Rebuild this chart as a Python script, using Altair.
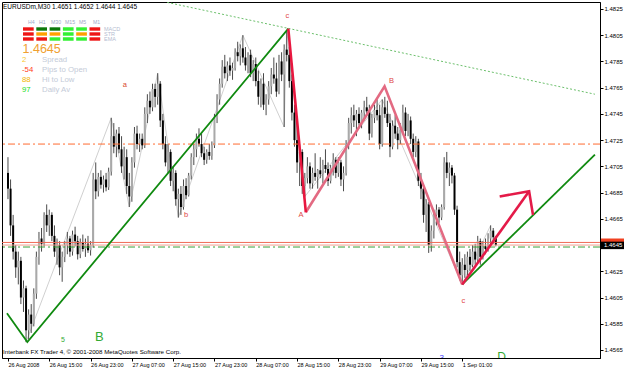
import altair as alt
import pandas as pd

# ---------------- data ----------------
open_ = [
1.4700,1.4688,1.4660,1.4640,1.4628,1.4633,1.4605,1.4612,1.4580,1.4592,
1.4585,1.4608,1.4636,1.4650,1.4646,1.4668,1.4660,1.4668,1.4652,1.4640,
1.4645,1.4628,1.4636,1.4645,1.4650,1.4640,1.4653,1.4648,1.4638,1.4647,
1.4642,1.4646,1.4641,1.4645,1.4695,1.4686,1.4697,1.4691,1.4695,1.4689,
1.4701,1.4728,1.4720,1.4730,1.4718,1.4705,1.4712,1.4690,1.4682,1.4708,
1.4730,1.4722,1.4726,1.4721,1.4745,1.4755,1.4750,1.4764,1.4758,1.4768,
1.4740,1.4722,1.4708,1.4716,1.4694,1.4700,1.4680,1.4684,1.4674,1.4690,
1.4683,1.4698,1.4712,1.4718,1.4726,1.4722,1.4715,1.4710,1.4716,1.4713,
1.4721,1.4742,1.4756,1.4768,1.4781,1.4776,1.4782,1.4778,1.4780,1.4792,
1.4789,1.4795,1.4788,1.4782,1.4790,1.4776,1.4783,1.4770,1.4758,1.4768,
1.4752,1.4756,1.4766,1.4775,1.4772,1.4762,1.4785,1.4775,1.4794,1.4790,
1.4770,1.4746,1.4725,1.4708,1.4716,1.4690,1.4696,1.4705,1.4692,1.4700,
1.4697,1.4702,1.4699,1.4706,1.4703,1.4694,1.4704,1.4710,1.4700,1.4708,
1.4695,1.4700,1.4722,1.4738,1.4744,1.4740,1.4745,1.4738,1.4746,1.4750,
1.4747,1.4730,1.4742,1.4748,1.4744,1.4722,1.4750,1.4745,1.4738,1.4720,
1.4736,1.4730,1.4725,1.4733,1.4746,1.4732,1.4740,1.4726,1.4716,1.4724,
1.4694,1.4688,1.4668,1.4676,1.4645,1.4656,1.4668,1.4672,1.4666,1.4674,
1.4708,1.4700,1.4704,1.4698,1.4672,1.4632,1.4622,1.4630,1.4626,1.4636,
1.4630,1.4640,1.4634,1.4648,1.4636,1.4644,1.4642,1.4650,1.4656,1.4651,
]
high = [
1.4712,1.4695,1.4668,1.4645,1.4640,1.4636,1.4618,1.4614,1.4596,1.4600,
1.4612,1.4640,1.4655,1.4658,1.4670,1.4676,1.4672,1.4670,1.4660,1.4650,
1.4648,1.4640,1.4648,1.4655,1.4652,1.4656,1.4659,1.4652,1.4650,1.4653,
1.4650,1.4652,1.4648,1.4700,1.4708,1.4700,1.4702,1.4698,1.4700,1.4704,
1.4742,1.4738,1.4733,1.4735,1.4728,1.4720,1.4718,1.4700,1.4712,1.4735,
1.4736,1.4730,1.4730,1.4750,1.4760,1.4762,1.4768,1.4768,1.4776,1.4770,
1.4745,1.4728,1.4722,1.4718,1.4705,1.4702,1.4688,1.4690,1.4695,1.4696,
1.4700,1.4715,1.4722,1.4730,1.4734,1.4730,1.4720,1.4718,1.4722,1.4724,
1.4745,1.4760,1.4772,1.4786,1.4790,1.4785,1.4788,1.4784,1.4795,1.4800,
1.4798,1.4805,1.4796,1.4792,1.4794,1.4786,1.4788,1.4778,1.4772,1.4776,
1.4760,1.4770,1.4780,1.4788,1.4784,1.4790,1.4792,1.4798,1.4809,1.4796,
1.4775,1.4752,1.4740,1.4722,1.4718,1.4700,1.4712,1.4708,1.4704,1.4715,
1.4703,1.4712,1.4710,1.4718,1.4708,1.4706,1.4715,1.4712,1.4712,1.4710,
1.4705,1.4725,1.4742,1.4750,1.4752,1.4748,1.4750,1.4748,1.4755,1.4758,
1.4752,1.4745,1.4752,1.4756,1.4752,1.4756,1.4758,1.4755,1.4745,1.4740,
1.4744,1.4735,1.4738,1.4752,1.4750,1.4745,1.4743,1.4730,1.4728,1.4726,
1.4700,1.4690,1.4680,1.4678,1.4660,1.4672,1.4676,1.4674,1.4676,1.4712,
1.4716,1.4708,1.4706,1.4700,1.4675,1.4640,1.4635,1.4638,1.4640,1.4642,
1.4645,1.4646,1.4652,1.4650,1.4648,1.4650,1.4654,1.4660,1.4658,1.4652,
]
low = [
1.4680,1.4652,1.4634,1.4620,1.4615,1.4600,1.4594,1.4571,1.4573,1.4578,
1.4583,1.4604,1.4630,1.4640,1.4644,1.4655,1.4652,1.4648,1.4636,1.4630,
1.4622,1.4617,1.4632,1.4638,1.4636,1.4637,1.4644,1.4634,1.4635,1.4640,
1.4636,1.4639,1.4637,1.4643,1.4680,1.4682,1.4688,1.4685,1.4686,1.4687,
1.4698,1.4715,1.4712,1.4715,1.4700,1.4695,1.4684,1.4674,1.4678,1.4704,
1.4718,1.4716,1.4718,1.4719,1.4738,1.4745,1.4747,1.4750,1.4752,1.4735,
1.4718,1.4705,1.4700,1.4690,1.4686,1.4675,1.4666,1.4668,1.4672,1.4680,
1.4682,1.4695,1.4706,1.4712,1.4720,1.4712,1.4706,1.4707,1.4710,1.4710,
1.4719,1.4738,1.4752,1.4765,1.4772,1.4770,1.4774,1.4771,1.4778,1.4785,
1.4782,1.4784,1.4778,1.4776,1.4773,1.4770,1.4766,1.4752,1.4750,1.4748,
1.4744,1.4752,1.4760,1.4768,1.4758,1.4760,1.4770,1.4735,1.4785,1.4765,
1.4740,1.4720,1.4700,1.4690,1.4684,1.4682,1.4692,1.4688,1.4688,1.4694,
1.4688,1.4696,1.4692,1.4700,1.4690,1.4692,1.4698,1.4696,1.4697,1.4690,
1.4686,1.4698,1.4718,1.4730,1.4735,1.4728,1.4736,1.4734,1.4740,1.4744,
1.4725,1.4727,1.4738,1.4740,1.4718,1.4720,1.4742,1.4735,1.4712,1.4718,
1.4726,1.4718,1.4722,1.4730,1.4728,1.4728,1.4722,1.4712,1.4712,1.4690,
1.4680,1.4662,1.4655,1.4639,1.4640,1.4650,1.4660,1.4662,1.4664,1.4672,
1.4696,1.4690,1.4692,1.4668,1.4628,1.4618,1.4615,1.4620,1.4622,1.4625,
1.4628,1.4630,1.4632,1.4630,1.4634,1.4638,1.4640,1.4645,1.4646,1.4644,
]
close = [
1.4688,1.4660,1.4640,1.4628,1.4633,1.4605,1.4612,1.4580,1.4592,1.4585,
1.4608,1.4636,1.4650,1.4646,1.4668,1.4660,1.4668,1.4652,1.4640,1.4645,
1.4628,1.4636,1.4645,1.4650,1.4640,1.4653,1.4648,1.4638,1.4647,1.4642,
1.4646,1.4641,1.4645,1.4695,1.4686,1.4697,1.4691,1.4695,1.4689,1.4701,
1.4728,1.4720,1.4730,1.4718,1.4705,1.4712,1.4690,1.4682,1.4708,1.4730,
1.4722,1.4726,1.4721,1.4745,1.4755,1.4750,1.4764,1.4758,1.4768,1.4740,
1.4722,1.4708,1.4716,1.4694,1.4700,1.4680,1.4684,1.4674,1.4690,1.4683,
1.4698,1.4712,1.4718,1.4726,1.4722,1.4715,1.4710,1.4716,1.4713,1.4721,
1.4742,1.4756,1.4768,1.4781,1.4776,1.4782,1.4778,1.4780,1.4792,1.4789,
1.4795,1.4788,1.4782,1.4790,1.4776,1.4783,1.4770,1.4758,1.4768,1.4752,
1.4756,1.4766,1.4775,1.4772,1.4762,1.4785,1.4775,1.4794,1.4790,1.4770,
1.4746,1.4725,1.4708,1.4716,1.4690,1.4696,1.4705,1.4692,1.4700,1.4697,
1.4702,1.4699,1.4706,1.4703,1.4694,1.4704,1.4710,1.4700,1.4708,1.4695,
1.4700,1.4722,1.4738,1.4744,1.4740,1.4745,1.4738,1.4746,1.4750,1.4747,
1.4730,1.4742,1.4748,1.4744,1.4722,1.4750,1.4745,1.4738,1.4720,1.4736,
1.4730,1.4725,1.4733,1.4746,1.4732,1.4740,1.4726,1.4716,1.4724,1.4694,
1.4688,1.4668,1.4676,1.4645,1.4656,1.4668,1.4672,1.4666,1.4674,1.4708,
1.4700,1.4704,1.4698,1.4672,1.4632,1.4622,1.4630,1.4626,1.4636,1.4630,
1.4640,1.4634,1.4648,1.4636,1.4644,1.4642,1.4650,1.4656,1.4651,1.4645,
]

x_ticks = [0, 16, 32, 48, 64, 80, 96, 112, 128, 144, 160, 176]
x_tick_labels = ["26 Aug 2008", "26 Aug 15:00", "26 Aug 23:00", "27 Aug 07:00",
                 "27 Aug 15:00", "27 Aug 23:00", "28 Aug 07:00", "28 Aug 15:00",
                 "28 Aug 23:00", "29 Aug 07:00", "29 Aug 15:00", "1 Sep 01:00"]
y_ticks = [1.4565, 1.4585, 1.4605, 1.4625, 1.4645, 1.4665, 1.4685, 1.4705,
           1.4725, 1.4745, 1.4765, 1.4785, 1.4805, 1.4825]

# zigzag indicator (thin grey)
zig_bar = [7, 40, 47, 58, 66, 91, 107, 108, 115, 145, 176, 187]
zig_price = [1.4571, 1.4742, 1.4674, 1.4776, 1.4666, 1.4805, 1.4735, 1.4809,
             1.4682, 1.4756, 1.4615, 1.4660]
# drawn objects
trend1_bar = [-0.4, 7.5, 108.6]
trend1_price = [1.4593, 1.4571, 1.4810]
trend2_bar = [176.0, 227.4]
trend2_price = [1.4615, 1.4714]
chan_bar = [61.7, 227.4]
chan_price = [1.4830, 1.4760]
wave_bar = [108.6, 115.4, 145.9, 176.0]
wave_price = [1.4810, 1.4670, 1.4766, 1.4615]
arrow_bar = [176.0, 201.9]
arrow_price = [1.4615, 1.4686]
head_bar = [190.5, 201.9, 203.4]
head_price = [1.4682, 1.4686, 1.4668]
level_orange = 1.4722
level_green = 1.46435
ask = 1.4647
bid = 1.4645

wave_labels = ["a", "b", "c", "A", "B", "c", "5", "B"]
wave_label_bar = [45.3, 69.0, 108.2, 113.5, 148.6, 176.4, 21.3, 35.4]
wave_label_price = [1.4767, 1.4668, 1.4820, 1.4668, 1.4770, 1.4602, 1.4573, 1.4575]
wave_label_color = ["#d84830", "#e04848", "#e04848", "#e04848", "#e04848", "#e04848",
                    "#33aa33", "#33aa33"]
wave_label_size = [7.5, 7.5, 7.5, 7.5, 7.5, 7.5, 7, 13]
edge_labels = ["3", "D"]
edge_label_bar = [168.0, 191.2]
edge_label_price = [1.45575, 1.45566]
edge_label_color = ["#4040ff", "#33aa33"]
edge_label_size = [8, 12]

symbol = "EURUSDm,M30"
footer = "Interbank FX Trader 4, \u00a9 2001-2008 MetaQuotes Software Corp."
tf_names = ["H4", "H1", "M30", "M15", "M5", "M1"]
ind_names = ["MACD", "STR", "EMA"]
ind_states = [["red", "dkgreen", "dkgreen", "green", "green", "red"],
              ["red", "orange", "orange", "green", "orange", "red"],
              ["red", "red", "green", "green", "green", "red"]]
info_values = ["2", "-54", "88", "97"]
info_names = ["Spread", "Pips to Open", "Hi to Low", "Daily Av"]
info_colors = ["#f8c830", "#ff4020", "#f2b400", "#22dd22"]

# ---------------- chart ----------------
FONT = "Liberation Sans"
xs = alt.Scale(domain=[-0.381, 227.43], nice=False, zero=False)
ys = alt.Scale(domain=[1.45589, 1.48303], nice=False, zero=False)
label_expr = "[" + ",".join("'%s'" % s for s in x_tick_labels) + "][round(datum.value/16)]"
xaxis = alt.Axis(values=x_ticks, labelExpr=label_expr, labelAlign="left", labelBaseline="top",
                 labelFont=FONT, labelFontSize=5.5, labelColor="black", labelPadding=1,
                 labelOverlap=False, labelFlush=False, tickColor="black", tickSize=3,
                 domainColor="black", grid=False, title=None)
yaxis = alt.Axis(orient="right", values=y_ticks, format=".4f", labelFont=FONT,
                 labelFontSize=6, labelColor="black", labelPadding=1, labelOverlap=False,
                 labelFlush=False, tickColor="black", tickSize=3, domainColor="black",
                 grid=False, title=None)


def X(f):
    return alt.X(f, type="quantitative", scale=xs, axis=xaxis)


def Y(f):
    return alt.Y(f, type="quantitative", scale=ys, axis=yaxis)


def line_layer(bars, prices, color, width, dash=None):
    df = pd.DataFrame({"bar": bars, "price": prices, "k": list(range(len(bars)))})
    kw = dict(color=color, strokeWidth=width, clip=True)
    if dash is not None:
        kw["strokeDash"] = dash
    return alt.Chart(df).mark_line(**kw).encode(x=X("bar"), y=Y("price"), order="k:Q")


def level_layer(price, color, width, dash=None):
    df = pd.DataFrame({"price": [price]})
    kw = dict(color=color, strokeWidth=width)
    if dash is not None:
        kw["strokeDash"] = dash
    return alt.Chart(df).mark_rule(**kw).encode(y=Y("price"))


cdf = pd.DataFrame({"bar": list(range(len(close))), "open": open_, "high": high,
                    "low": low, "close": close})
wicks = alt.Chart(cdf).mark_rule(color="#4a4a4a", strokeWidth=1).encode(
    x=X("bar"), y=Y("low"), y2="high")
bodies = alt.Chart(cdf).mark_bar(size=2).encode(
    x=X("bar"), y=Y("open"), y2="close",
    color=alt.condition("datum.close >= datum.open", alt.value("#a9a9a9"), alt.value("#000000")))

zig = line_layer(zig_bar, zig_price, "#d0d0d0", 1)
lev_o = level_layer(level_orange, "#ff6a30", 1, [7, 3, 2, 3])
lev_g = level_layer(level_green, "#3aa03a", 1, [7, 3, 2, 3])
lev_bid = level_layer(bid, "#f4a090", 1)
lev_ask = level_layer(ask, "#f06a55", 1)
chan = line_layer(chan_bar, chan_price, "#6cc06c", 1, [2, 2])
tr1 = line_layer(trend1_bar, trend1_price, "#108a10", 1.8)
tr2 = line_layer(trend2_bar, trend2_price, "#108a10", 1.8)
w1 = line_layer(wave_bar[:2], wave_price[:2], "#e8173f", 2.6)
w2 = line_layer(wave_bar[1:], wave_price[1:], "#e36a82", 2.6)
arr = line_layer(arrow_bar, arrow_price, "#e41a48", 2.6)
head = line_layer(head_bar, head_price, "#e41a48", 2.6)

ldf = pd.DataFrame({"bar": wave_label_bar, "price": wave_label_price, "t": wave_labels,
                    "c": wave_label_color, "s": wave_label_size})
labels = alt.Chart(ldf).mark_text(font=FONT, baseline="middle", align="center").encode(
    x=X("bar"), y=Y("price"), text="t:N", color=alt.Color("c:N", scale=None),
    size=alt.Size("s:Q", scale=None))
edf = pd.DataFrame({"bar": edge_label_bar, "price": edge_label_price, "t": edge_labels,
                    "c": edge_label_color, "s": edge_label_size})
edge = alt.Chart(edf).mark_text(font=FONT, baseline="alphabetic", align="center", clip=True).encode(
    x=X("bar"), y=Y("price"), text="t:N", color=alt.Color("c:N", scale=None),
    size=alt.Size("s:Q", scale=None))

# price tags on the right axis
tag = pd.DataFrame({"top": [ask + 0.00030, bid + 0.00026], "bot": [ask - 0.00005, bid - 0.00031],
                    "c": ["#f04020", "#000000"]})
tags = alt.Chart(tag).mark_rect().encode(
    x=alt.value(599), x2=alt.value(622), y=Y("top"), y2="bot",
    color=alt.Color("c:N", scale=None))
tagtxt = alt.Chart(pd.DataFrame({"price": [bid], "t": ["%.4f" % bid]})).mark_text(
    font=FONT, fontSize=6, color="white", align="left", baseline="middle").encode(
    x=alt.value(602), y=Y("price"), text="t:N")

# info panel (screen overlay)
head_text = "%s  %.4f %.4f %.4f %.4f" % (symbol, open_[-1], high[-1], low[-1], close[-1])
rows = [dict(px=1, py=4.5, t=head_text, c="#000000", s=6.5),
        dict(px=1, py=350, t=footer, c="#000000", s=6.2),
        dict(px=20.5, py=46.5, t="%.4f" % close[-1], c="#f0a030", s=12.5)]
tf_x = [26, 37, 49, 63, 77, 91]
for i, n in enumerate(tf_names):
    rows.append(dict(px=tf_x[i], py=19.8, t=n, c="#a0aac8", s=5.2))
for j, n in enumerate(ind_names):
    rows.append(dict(px=102, py=26.6 + 5 * j, t=n, c="#b4bcd0", s=5.5))
for k in range(4):
    rows.append(dict(px=20, py=57.5 + 10 * k, t=info_values[k], c=info_colors[k], s=7.8))
    rows.append(dict(px=40, py=57.5 + 10 * k, t=info_names[k], c="#c4cbd8", s=7.8))
pdf = pd.DataFrame(rows)
panel = alt.Chart(pdf).mark_text(font=FONT, align="left", baseline="middle").encode(
    x=alt.X("px:Q", scale=None, axis=None), y=alt.Y("py:Q", scale=None, axis=None),
    text="t:N", color=alt.Color("c:N", scale=None), size=alt.Size("s:Q", scale=None))

state_color = {"red": "#ee1515", "dkgreen": "#0b780b", "green": "#33f033", "orange": "#ffa000"}
cells = []
for r, row in enumerate(ind_states):
    for c, st in enumerate(row):
        cells.append(dict(x1=21 + 13.3 * c, x2=31.7 + 13.3 * c, y1=25.3 + 5 * r,
                          y2=28.7 + 5 * r, c=state_color[st]))
cell_chart = alt.Chart(pd.DataFrame(cells)).mark_rect().encode(
    x=alt.X("x1:Q", scale=None, axis=None), x2="x2:Q",
    y=alt.Y("y1:Q", scale=None, axis=None), y2="y2:Q",
    color=alt.Color("c:N", scale=None))

chart = alt.layer(
    zig, wicks, bodies, lev_o, lev_g, lev_bid, lev_ask, chan, tr1, tr2, w2, w1, arr, head,
    labels, edge, tags, tagtxt, panel, cell_chart
).properties(
    width=598, height=356,
    padding={"left": 2, "top": 2, "right": 25, "bottom": 11},
    autosize=alt.AutoSizeParams(type="none"),
    background="white",
).configure_view(stroke="black", strokeWidth=1)

chart.save("out.html", embed_options={"renderer": "svg", "actions": False})
